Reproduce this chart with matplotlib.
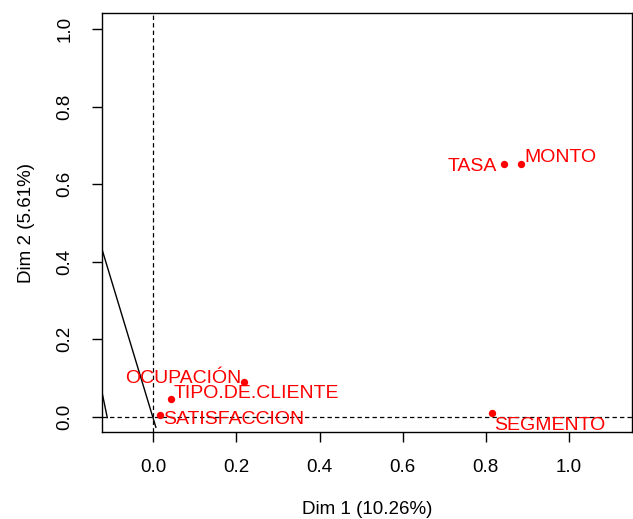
import numpy as np
import matplotlib
matplotlib.use("Agg")
import matplotlib.pyplot as plt

plt.rcParams['font.family'] = ['Liberation Sans', 'DejaVu Sans']

# variable coordinates on Dim 1 / Dim 2
names = ['TASA', 'MONTO', 'SEGMENTO', 'OCUPACIÓN', 'TIPO.DE.CLIENTE', 'SATISFACCION']
dim1 = [0.843, 0.886, 0.814, 0.219, 0.042, 0.016]
dim2 = [0.653, 0.653, 0.009, 0.090, 0.046, 0.004]

# stray segments drawn on the plot (clipped at the frame)
seg1_x = [-0.123, 0.006]
seg1_y = [0.430, -0.027]
seg2_x = [-0.123, -0.111]
seg2_y = [0.060, -0.002]

xticks = [0.0, 0.2, 0.4, 0.6, 0.8, 1.0]
yticks = [0.0, 0.2, 0.4, 0.6, 0.8, 1.0]

# label placement: (dx px, dy px, ha) from the point to the text baseline
label_pos = {
    'TASA': (-7, -6.8, 'right'),
    'MONTO': (3.4, 1.5, 'left'),
    'SEGMENTO': (3, -16.2, 'left'),
    'OCUPACIÓN': (-3.3, -1.5, 'right'),
    'TIPO.DE.CLIENTE': (2.3, 1.2, 'left'),
    'SATISFACCION': (2.7, -9.2, 'left'),
}

fig = plt.figure(figsize=(6.33, 5.19), dpi=100)
ax = fig.add_axes([0.1616, 0.167, 0.8374, 0.807])
ax.set_xlim(-0.123, 1.153)
ax.set_ylim(-0.040, 1.041)

ax.axhline(0, color='black', lw=0.9, dashes=(3.5, 2.5))
ax.axvline(0, color='black', lw=0.9, dashes=(3.5, 2.5))

ax.plot(seg1_x, seg1_y, color='black', lw=1)
ax.plot(seg2_x, seg2_y, color='black', lw=1)

ax.scatter(dim1, dim2, s=28, color='#FF0000', zorder=3, linewidths=0)

for n, x, y in zip(names, dim1, dim2):
    dx, dy, ha = label_pos[n]
    ax.annotate(n, (x, y), xytext=(dx * 0.72, dy * 0.72), textcoords='offset points',
                ha=ha, va='baseline', color='#FF0000', fontsize=14)

ax.set_xticks(xticks)
ax.set_yticks(yticks)
ax.set_xticklabels([f'{t:.1f}' for t in xticks])
ax.set_yticklabels([f'{t:.1f}' for t in yticks], rotation=90, va='center')
ax.tick_params(axis='both', length=7, width=1, labelsize=13.5, pad=12)
ax.tick_params(axis='y', pad=14)
for s in ax.spines.values():
    s.set_linewidth(1)

ax.set_xlabel('Dim 1 (10.26%)', fontsize=13.5, labelpad=18)
ax.set_ylabel('Dim 2 (5.61%)', fontsize=13.5, labelpad=15)

fig.savefig('out.png', dpi=100)
